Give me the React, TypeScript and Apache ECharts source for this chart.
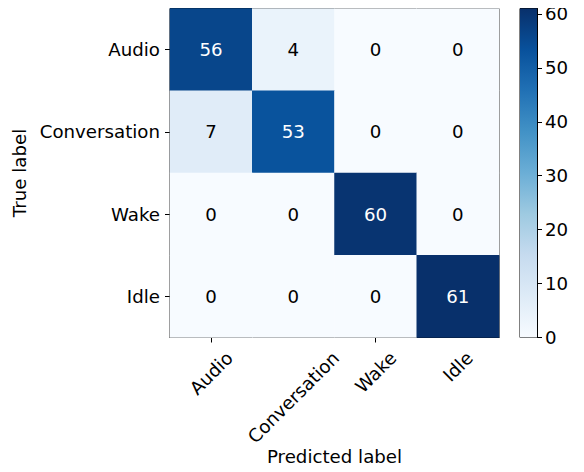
import React, { useEffect, useRef } from "react";
import * as echarts from "echarts";

const classes = ["Audio", "Conversation", "Wake", "Idle"];
// rows = true label, columns = predicted label
const matrix = [
  [56, 4, 0, 0],
  [7, 53, 0, 0],
  [0, 0, 60, 0],
  [0, 0, 0, 61],
];
const colorbarTicks = [0, 10, 20, 30, 40, 50, 60];
const vMin = 0;
const vMax = 61;
const blues = [
  "#f7fbff",
  "#deebf7",
  "#c6dbef",
  "#9ecae1",
  "#6baed6",
  "#4292c6",
  "#2171b5",
  "#08519c",
  "#08306b",
];

const FONT = "DejaVu Sans";
const FS = 18.2;

function measure(text: string): number {
  const c = document.createElement("canvas");
  const ctx = c.getContext("2d");
  if (!ctx) return text.length * FS * 0.6;
  ctx.font = `${FS}px "${FONT}"`;
  return ctx.measureText(text).width;
}

export default function App() {
  const ref = useRef<HTMLDivElement>(null);
  useEffect(() => {
    if (!ref.current) return;
    const chart = echarts.init(ref.current, undefined, { renderer: "svg" });
    const thresh = vMax / 2;
    const data: any[] = [];
    matrix.forEach((row, i) =>
      row.forEach((v, j) => {
        data.push({
          value: [j, i, v],
          label: { color: v > thresh ? "#ffffff" : "#000000" },
        });
      })
    );
    const gradStops = blues
      .map((c, k) => ({ offset: 1 - k / (blues.length - 1), color: c }))
      .reverse();
    const plotTop = 8.5;
    const plotSize = 329;
    const option: any = {
      animation: false,
      textStyle: { fontFamily: FONT },
      grid: [
        {
          left: 170,
          top: plotTop,
          width: plotSize,
          height: plotSize,
          show: true,
          borderColor: "#000",
          borderWidth: 1,
          backgroundColor: "transparent",
        },
        {
          left: 520,
          top: plotTop,
          width: 17,
          height: plotSize,
          show: true,
          borderColor: "#000",
          borderWidth: 1,
          backgroundColor: "transparent",
        },
      ],
      xAxis: [
        {
          type: "category",
          gridIndex: 0,
          data: classes,
          name: "Predicted label",
          nameLocation: "middle",
          nameGap: 110,
          nameTextStyle: { fontSize: FS, color: "#000", fontFamily: FONT },
          axisLine: { show: true, lineStyle: { color: "#000" } },
          axisTick: {
            show: true,
            alignWithLabel: true,
            length: 5,
            lineStyle: { color: "#000" },
          },
          axisLabel: { show: false },
          splitLine: { show: false },
        },
        {
          type: "category",
          gridIndex: 1,
          data: ["cb"],
          show: false,
        },
      ],
      yAxis: [
        {
          type: "category",
          gridIndex: 0,
          data: classes,
          inverse: true,
          name: "True label",
          nameLocation: "middle",
          nameGap: 137,
          nameTextStyle: { fontSize: FS, color: "#000", fontFamily: FONT },
          axisLine: { show: true, lineStyle: { color: "#000" } },
          axisTick: {
            show: true,
            alignWithLabel: true,
            length: 5,
            lineStyle: { color: "#000" },
          },
          axisLabel: {
            fontSize: FS,
            color: "#000",
            fontFamily: FONT,
            margin: 10,
          },
          splitLine: { show: false },
        },
        {
          type: "value",
          gridIndex: 1,
          position: "right",
          min: vMin,
          max: vMax,
          interval: 10,
          axisLine: { show: true, lineStyle: { color: "#000" } },
          axisTick: { show: true, length: 5, lineStyle: { color: "#000" } },
          axisLabel: {
            fontSize: FS,
            color: "#000",
            fontFamily: FONT,
            margin: 8,
            showMaxLabel: false,
            formatter: (v: number) =>
              colorbarTicks.includes(v) ? String(v) : "",
          },
          splitLine: { show: false },
        },
      ],
      visualMap: {
        show: false,
        min: vMin,
        max: vMax,
        seriesIndex: 0,
        dimension: 2,
        inRange: { color: blues },
      },
      series: [
        {
          type: "heatmap",
          xAxisIndex: 0,
          yAxisIndex: 0,
          data,
          label: {
            show: true,
            fontSize: FS,
            fontFamily: FONT,
            formatter: (p: any) => String(p.value[2]),
          },
          emphasis: { disabled: true },
          itemStyle: { borderWidth: 0 },
        },
        {
          type: "bar",
          xAxisIndex: 1,
          yAxisIndex: 1,
          data: [vMax],
          barWidth: "100%",
          silent: true,
          itemStyle: {
            color: new echarts.graphic.LinearGradient(0, 0, 0, 1, gradStops),
          },
        },
      ],
    };
    chart.setOption(option);

    // Rotated x tick labels, centred under each tick (bbox centred like matplotlib)
    const labelTop = plotTop + plotSize + 12.5;
    const h = FS * 0.75;
    const graphics = classes.map((name, i) => {
      const px = chart.convertToPixel({ xAxisIndex: 0 }, i) as number;
      const w = measure(name);
      const bboxH = (w + h) / Math.SQRT2;
      return {
        type: "text",
        x: px,
        y: labelTop + bboxH / 2,
        rotation: Math.PI / 4,
        silent: true,
        style: {
          text: name,
          fontSize: FS,
          fontFamily: FONT,
          fill: "#000",
          align: "center",
          verticalAlign: "middle",
        },
      };
    });
    chart.setOption({ graphic: graphics });
    return () => chart.dispose();
  }, []);
  return <div ref={ref} style={{ width: 584, height: 472, margin: -8 }} />;
}
